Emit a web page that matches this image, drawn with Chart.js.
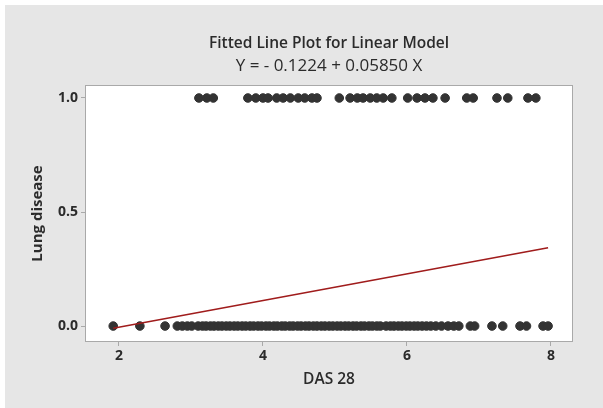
<!DOCTYPE html>
<html>
<head>
<meta charset="utf-8">
<script src="https://cdn.jsdelivr.net/npm/chart.js@4"></script>
<style>
  html, body { margin: 0; padding: 0; background: #fff; overflow: hidden; }
  #wrap { width: 603px; height: 408px; position: relative; }
</style>
</head>
<body>
<div id="wrap"><canvas id="fitChart"></canvas></div>
<script>
// DAS 28 values of patients with lung disease (Y = 1)
const dasYes = [3.11, 3.22, 3.31, 3.79, 3.90, 4.00, 4.07, 4.19, 4.28, 4.38, 4.49, 4.58, 4.68, 4.75,
    5.06, 5.21, 5.31, 5.39, 5.49, 5.58, 5.67, 5.79, 6.01, 6.14, 6.25, 6.36, 6.53, 6.83, 6.92,
    7.25, 7.40, 7.68, 7.79];
// DAS 28 values of patients without lung disease (Y = 0)
const dasNo = [1.92, 2.29, 2.64, 2.81, 2.88, 2.95, 3.01,
    3.10, 3.16, 3.21, 3.27, 3.32, 3.38, 3.43, 3.49, 3.54, 3.60, 3.65, 3.71, 3.76, 3.82, 3.87,
    3.93, 3.98, 4.04, 4.09, 4.15, 4.20, 4.26, 4.31, 4.37, 4.42, 4.48, 4.53, 4.59, 4.64, 4.70,
    4.75, 4.81, 4.86, 4.92, 4.97, 5.03, 5.08, 5.14, 5.19, 5.25, 5.30, 5.36, 5.41, 5.47, 5.52,
    5.58, 5.63, 5.71, 5.77, 5.82, 5.88, 5.93, 5.99, 6.04, 6.10, 6.15, 6.21, 6.27, 6.33, 6.40,
    6.48, 6.57, 6.65, 6.72, 6.88, 6.94, 7.18, 7.33, 7.57, 7.66, 7.89, 7.96];
// fitted line end points
const fitX = [1.92, 7.96];
const fitY = [-0.010, 0.343];
const xTicks = [2, 4, 6, 8];
const yTicks = [0.0, 0.5, 1.0];

const FONT = "'Open Sans', 'DejaVu Sans', sans-serif";
const INK = '#2b2b2b';

// gray background + white plot box
const frame = {
    id: 'frame',
    beforeDraw(chart) {
        const c = chart.ctx;
        c.save();
        c.fillStyle = '#ffffff';
        c.fillRect(0, 0, chart.width, chart.height);
        c.fillStyle = '#e6e6e6';
        c.fillRect(5, 5, chart.width - 5, chart.height - 5);
        const a = chart.chartArea;
        c.fillStyle = '#ffffff';
        c.fillRect(a.left, a.top, a.right - a.left, a.bottom - a.top);
        c.strokeStyle = '#a9a9a9';
        c.lineWidth = 1;
        c.strokeRect(a.left + 0.5, a.top + 0.5, a.right - a.left - 1, a.bottom - a.top - 1);
        c.restore();
    }
};

const ctx = document.getElementById('fitChart').getContext('2d');
new Chart(ctx, {
    type: 'scatter',
    data: {
        datasets: [{
            type: 'line',
            label: 'Fit',
            data: fitX.map((x, i) => ({ x: x, y: fitY[i] })),
            borderColor: '#a01c1c',
            borderWidth: 1.6,
            pointRadius: 0,
            fill: false,
            order: 0
        }, {
            label: 'Lung disease = 1',
            data: dasYes.map(x => ({ x: x, y: 1 })),
            backgroundColor: '#333333',
            borderColor: '#333333',
            pointRadius: 4.3,
            order: 1
        }, {
            label: 'Lung disease = 0',
            data: dasNo.map(x => ({ x: x, y: 0 })),
            backgroundColor: '#333333',
            borderColor: '#333333',
            pointRadius: 4.3,
            order: 1
        }]
    },
    options: {
        responsive: true,
        maintainAspectRatio: false,
        animation: false,
        layout: { padding: { left: 0, right: 30, top: 0, bottom: 0 } },
        plugins: {
            legend: { display: false },
            tooltip: { enabled: false },
            title: {
                display: true,
                fullSize: false,
                text: 'Fitted Line Plot for Linear Model',
                color: INK,
                font: { family: FONT, size: 15.5, weight: '600', lineHeight: 1.2 },
                padding: { top: 34, bottom: 0 }
            },
            subtitle: {
                display: true,
                fullSize: false,
                text: 'Y = - 0.1224 + 0.05850 X',
                color: INK,
                font: { family: FONT, size: 17, weight: 'normal', lineHeight: 1.2 },
                padding: { top: 3, bottom: 9 }
            }
        },
        scales: {
            x: {
                type: 'linear',
                min: 1.528,
                max: 8.306,
                afterFit(scale) { scale.height = 66; },
                afterBuildTicks(scale) { scale.ticks = xTicks.map(v => ({ value: v })); },
                grid: { display: true, drawOnChartArea: false, tickLength: 4, color: '#a9a9a9' },
                border: { display: false },
                ticks: {
                    color: INK,
                    padding: 2,
                    font: { family: FONT, size: 14, weight: 'bold' },
                    callback: v => String(v)
                },
                title: {
                    display: true,
                    text: 'DAS 28',
                    color: INK,
                    font: { family: FONT, size: 15.5, weight: '600', lineHeight: 1.2 },
                    padding: { top: 0, bottom: 19 }
                }
            },
            y: {
                type: 'linear',
                min: -0.07,
                max: 1.057,
                afterFit(scale) { scale.width = 85; },
                afterBuildTicks(scale) { scale.ticks = yTicks.map(v => ({ value: v })); },
                grid: { display: true, drawOnChartArea: false, tickLength: 4, color: '#a9a9a9' },
                border: { display: false },
                ticks: {
                    color: INK,
                    padding: 3,
                    font: { family: FONT, size: 14, weight: 'bold' },
                    callback: v => Number(v).toFixed(1)
                },
                title: {
                    display: true,
                    text: 'Lung disease',
                    color: INK,
                    font: { family: FONT, size: 15, weight: 'bold', lineHeight: 1.2 },
                    padding: { top: 29, bottom: 0 }
                }
            }
        }
    },
    plugins: [frame]
});
</script>
</body>
</html>
